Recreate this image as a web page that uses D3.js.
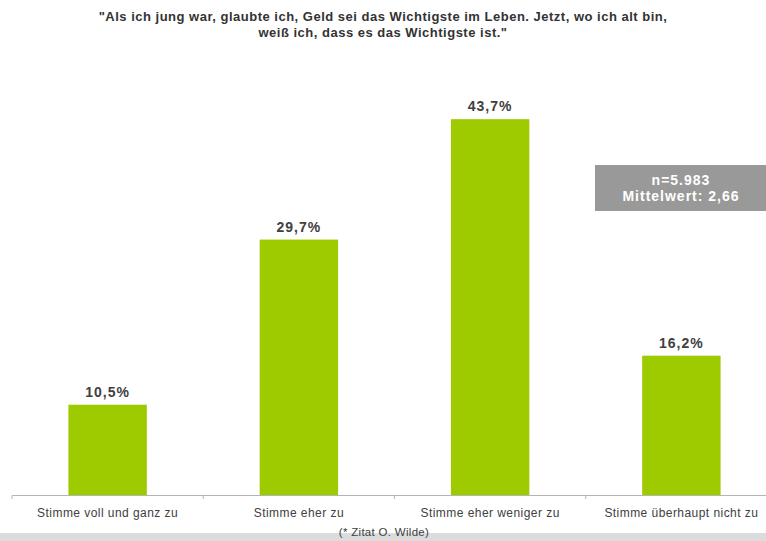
<!DOCTYPE html>
<html>
<head>
<meta charset="utf-8">
<script src="https://cdn.jsdelivr.net/npm/d3@7"></script>
<style>
  body { margin: 0; background: #fff; }
  svg { display: block; font-family: "Liberation Sans", Arial, sans-serif; }
</style>
</head>
<body>
<script>
var width = 766;
var height = 541;

var categories = ['Stimme voll und ganz zu', 'Stimme eher zu', 'Stimme eher weniger zu', 'Stimme überhaupt nicht zu'];
var values = [10.5, 29.7, 43.7, 16.2];
var titleLines = ['"Als ich jung war, glaubte ich, Geld sei das Wichtigste im Leben. Jetzt, wo ich alt bin,',
                  'weiß ich, dass es das Wichtigste ist."'];
var infoLines = ['n=5.983', 'Mittelwert: 2,66'];
var footnote = '(* Zitat O. Wilde)';

var margin = {top: 65, right: -11, bottom: 46, left: 12};

var svg = d3.select('body').append('svg')
            .attr('width', width)
            .attr('height', height);

var x = d3.scaleBand()
          .domain(categories)
          .range([margin.left, width - margin.right])
          .paddingInner(0.59)
          .paddingOuter(0.295);

var y = d3.scaleLinear()
          .domain([0, 50])
          .range([height - margin.bottom, margin.top]);

// title
svg.append('g').selectAll('text').data(titleLines)
   .enter().append('text')
     .attr('x', 383)
     .attr('y', (d, i) => 21 + i * 16)
     .attr('text-anchor', 'middle')
     .attr('font-size', '13px')
     .attr('letter-spacing', '0.5px')
     .attr('font-weight', 'bold')
     .attr('fill', '#333')
     .text(d => d);

// bars
svg.append('g').selectAll('rect').data(values)
   .enter().append('rect')
     .attr('x', (d, i) => x(categories[i]))
     .attr('width', x.bandwidth())
     .attr('y', d => y(d))
     .attr('height', d => y(0) - y(d))
     .attr('fill', '#9dcb00');

svg.append('g').selectAll('text').data(values)
   .enter().append('text')
     .attr('x', (d, i) => x(categories[i]) + x.bandwidth() / 2)
     .attr('y', d => y(d) - 8)
     .attr('text-anchor', 'middle')
     .attr('font-size', '14px')
     .attr('letter-spacing', '1px')
     .attr('font-weight', 'bold')
     .attr('fill', '#404040')
     .text(d => d3.format('.1f')(d).replace('.', ',') + '%');

// axis
var axis = d3.axisBottom(x)
             .tickSize(0)
             .tickSizeOuter(0);
var gx = svg.append('g')
            .attr('transform', `translate(0,${y(0)})`)
            .call(axis);
gx.select('.domain').attr('stroke', '#b4b4b4');
gx.selectAll('.tick text')
  .attr('dy', '1.55em')
  .attr('font-size', '12px')
  .attr('letter-spacing', '0.45px')
  .attr('font-family', '"Liberation Sans", Arial, sans-serif')
  .attr('fill', '#404040');

var step = x.step();
var boundaries = d3.range(categories.length + 1).map(i => margin.left + i * step);
gx.selectAll('.sep').data(boundaries)
  .enter().append('line')
    .attr('class', 'sep')
    .attr('x1', d => d).attr('x2', d => d)
    .attr('y1', 0).attr('y2', 4)
    .attr('stroke', '#b4b4b4');

// info box
svg.append('rect')
   .attr('x', 595).attr('y', 165)
   .attr('width', 171).attr('height', 46)
   .attr('fill', '#999');
svg.append('g').selectAll('text').data(infoLines)
   .enter().append('text')
     .attr('x', 681)
     .attr('y', (d, i) => 185 + i * 16)
     .attr('text-anchor', 'middle')
     .attr('font-size', '14px')
     .attr('letter-spacing', '1px')
     .attr('font-weight', 'bold')
     .attr('fill', '#fff')
     .text(d => d);

// footer
svg.append('rect')
   .attr('x', 0).attr('y', 533)
   .attr('width', width).attr('height', 8)
   .attr('fill', '#dcdcdc');
svg.append('text')
   .attr('x', 384).attr('y', 536)
   .attr('text-anchor', 'middle')
   .attr('font-size', '11.5px')
   .attr('letter-spacing', '0.3px')
   .attr('fill', '#404040')
   .text(footnote);
</script>
</body>
</html>
